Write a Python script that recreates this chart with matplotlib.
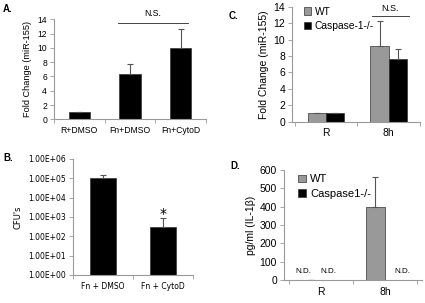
import matplotlib
matplotlib.use("Agg")
import matplotlib.pyplot as plt
import numpy as np

# panel A
a_cats = ["R+DMSO", "Fn+DMSO", "Fn+CytoD"]
a_vals = [1.0, 6.3, 10.0]
a_err = [0.0, 1.4, 2.7]

# panel B
b_cats = ["Fn + DMSO", "Fn + CytoD"]
b_vals = [1.0e5, 320]
b_err = [0.5e5, 600]
b_ticks = ["1.00E+00", "1.00E+01", "1.00E+02", "1.00E+03", "1.00E+04", "1.00E+05", "1.00E+06"]

# panel C
c_cats = ["R", "8h"]
c_wt = [1.0, 9.2]
c_wt_err = [0.0, 3.1]
c_ko = [1.0, 7.6]
c_ko_err = [0.0, 1.3]

# panel D
d_cats = ["R", "8h"]
d_wt = [0, 400]
d_wt_err = [0, 160]
d_nd = [(-0.27, "R"), (0.11, "R"), (1.27, "8h")]

W, H = 425, 303
fig = plt.figure(figsize=(W / 100, H / 100), dpi=100)
plt.rcParams['font.family'] = ['Liberation Sans', 'DejaVu Sans']

GRAY = "#999999"
BAR_GRAY = "#999999"
ekw = dict(ecolor="#555555", elinewidth=0.8, capsize=2, capthick=0.8)


def px_axes(l, r, t, b):
    return fig.add_axes([l / W, 1 - b / H, (r - l) / W, (b - t) / H])


def style(ax, n, fs):
    for s in ["top", "right"]:
        ax.spines[s].set_visible(False)
    for s in ["left", "bottom"]:
        ax.spines[s].set_color(GRAY)
        ax.spines[s].set_linewidth(0.8)
    ax.tick_params(axis="y", length=3, width=0.6, color=GRAY, labelsize=fs, pad=2)
    ax.tick_params(axis="x", which="major", length=0, labelsize=fs, pad=5)
    ax.set_xticks(np.arange(n + 1) - 0.5, minor=True)
    ax.tick_params(axis="x", which="minor", length=3, width=0.6, color=GRAY)


# ---- A
ax = px_axes(54, 206, 19.3, 119.3)
x = np.arange(len(a_cats))
ax.bar(x, a_vals, width=0.42, color="black", edgecolor="#333333", linewidth=0.5,
       yerr=[np.zeros(3), a_err], error_kw=ekw)
ax.set_xlim(-0.45, 2.5)
ax.set_ylim(0, 14)
ax.set_yticks(range(0, 15, 2))
ax.set_xticks(x)
ax.set_xticklabels(a_cats)
style(ax, 3, 6.2)
ax.set_ylabel("Fold Change (miR-155)", fontsize=6.6, labelpad=4)
ax.plot([0.77, 2.15], [13.45, 13.45], color="#444444", lw=0.7, clip_on=False)
ax.text(1.45, 14.2, "N.S.", ha="center", va="bottom", fontsize=6.2)
fig.text(3 / W, 1 - 4 / H, "A.", fontsize=7, fontweight="bold", va="top")

# ---- B
ax = px_axes(73, 193, 159, 275)
x = np.arange(len(b_cats))
ax.bar(x, b_vals, width=0.42, color="black", bottom=0, edgecolor="#333333", linewidth=0.5,
       yerr=[np.zeros(2), b_err], error_kw=ekw)
ax.set_yscale("log")
ax.set_ylim(1, 1e6)
ax.set_xlim(-0.5, 1.5)
ax.set_yticks([10 ** i for i in range(7)])
ax.set_yticklabels(b_ticks, family="DejaVu Sans")
ax.minorticks_off()
ax.set_xticks(x)
ax.set_xticklabels(b_cats, family="DejaVu Sans")
style(ax, 2, 5.5)
ax.set_ylabel("CFU's", fontsize=6, family="DejaVu Sans", labelpad=4)
ax.text(1, 1500, "*", ha="center", va="center", fontsize=10, family="DejaVu Sans")
fig.text(3 / W, 1 - 153 / H, "B.", fontsize=7, fontweight="bold", va="top")

# ---- C
ax = px_axes(292, 420, 7, 121.5)
x = np.arange(len(c_cats))
bw = 0.29
ax.bar(x - bw / 2, c_wt, width=bw, color=BAR_GRAY, edgecolor="#333333", linewidth=0.5, label="WT",
       yerr=[np.zeros(2), c_wt_err], error_kw=ekw)
ax.bar(x + bw / 2, c_ko, width=bw, color="black", edgecolor="#333333", linewidth=0.5, label="Caspase-1-/-",
       yerr=[np.zeros(2), c_ko_err], error_kw=ekw)
ax.set_xlim(-0.54, 1.49)
ax.set_ylim(0, 14)
ax.set_yticks(range(0, 15, 2))
ax.set_xticks(x)
ax.set_xticklabels(c_cats)
style(ax, 2, 7.5)
ax.set_ylabel("Fold Change (miR-155)", fontsize=7.5, labelpad=3)
ax.plot([0.73, 1.32], [12.9, 12.9], color="#444444", lw=0.7, clip_on=False)
ax.text(1.02, 13.3, "N.S.", ha="center", va="bottom", fontsize=6.5)
ax.legend(loc="upper left", bbox_to_anchor=(0.06, 1.04), frameon=False, fontsize=7.4,
          handlelength=0.7, handleheight=0.7, handletextpad=0.35, labelspacing=0.45, borderaxespad=0)
fig.text(229 / W, 1 - 11 / H, "C.", fontsize=7, fontweight="bold", va="top")

# ---- D
ax = px_axes(284, 422, 170, 280)
x = np.arange(len(d_cats))
ax.bar(x - 0.15, d_wt, width=0.3, color=BAR_GRAY, edgecolor="#333333", linewidth=0.5, label="WT",
       yerr=[np.zeros(2), d_wt_err], error_kw=ekw)
ax.bar(x + 0.15, [0, 0], width=0.3, color="black", edgecolor="#333333", linewidth=0.5, label="Caspase1-/-")
for xo, cat in d_nd:
    ax.text(xo, 45, "N.D.", ha="center", va="center", fontsize=5.8)
ax.set_xlim(-0.58, 1.58)
ax.set_ylim(0, 600)
ax.set_yticks(range(0, 601, 100))
ax.set_xticks(x)
ax.set_xticklabels(d_cats)
style(ax, 2, 7.5)
ax.set_ylabel("pg/ml (IL-1\u03b2)", fontsize=7.5, labelpad=3)
ax.legend(loc="upper left", bbox_to_anchor=(0.07, 1.0), frameon=False, fontsize=8,
          handlelength=0.7, handleheight=0.7, handletextpad=0.4, labelspacing=0.4, borderaxespad=0)
fig.text(230 / W, 1 - 161 / H, "D.", fontsize=7, fontweight="bold", va="top")

fig.savefig("out.png", dpi=100)
